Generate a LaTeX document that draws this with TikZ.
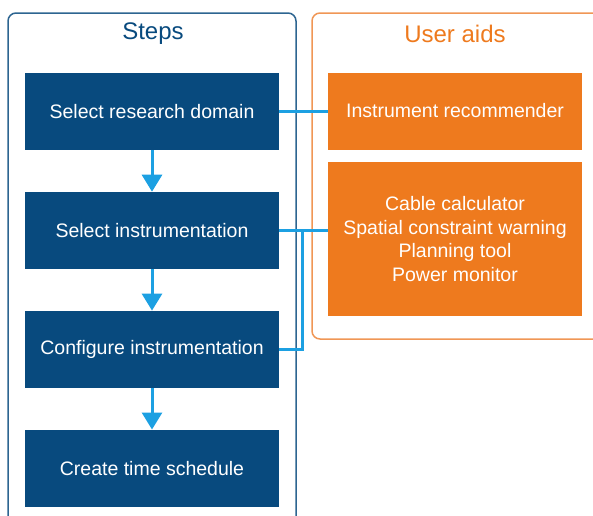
\documentclass[tikz,border=0pt]{standalone}
\usepackage{fontspec}
\setmainfont{Liberation Sans}
\usetikzlibrary{arrows.meta,positioning}
\definecolor{stepblue}{RGB}{8,74,126}
\definecolor{aidorange}{RGB}{238,122,30}
\definecolor{frameorange}{RGB}{240,150,85}
\definecolor{linkcyan}{RGB}{28,160,226}

\begin{document}
\begin{tikzpicture}[x=1pt,y=-1pt,
    node distance=41.5pt,
    stepbox/.style={fill=stepblue,text=white,minimum width=254pt,minimum height=77pt,
                    inner sep=0pt,align=center,font=\fontsize{19.5}{23.7}\selectfont},
    aidbox/.style={stepbox,fill=aidorange},
    ttl/.style={font=\fontsize{24}{28}\selectfont},
    panel/.style={rounded corners=8pt,line width=1.5pt},
    link/.style={line width=3pt,linkcyan},
    arr/.style={-{Triangle[length=17pt,width=20pt]},line width=3pt,linkcyan}
  ]
  \useasboundingbox (0,0) rectangle (593,515);
  \draw[panel,stepblue!85] (8,13) rectangle (296,540);
  \draw[panel,frameorange] (312,13) rectangle (620,339);
  \node[ttl,text=stepblue] (sttl) at (153,34) {Steps};
  \node[ttl,text=aidorange] (attl) at (455,34) {User aids};

  \node[stepbox] (dom) at (152,111.5) {Select research domain};
  \node[stepbox,below=of dom] (ins) {Select instrumentation};
  \node[stepbox,below=of ins] (cfg) {Configure instrumentation};
  \node[stepbox,below=of cfg] (sch) {Create time schedule};

  \node[aidbox] (rec) at (455,111) {Instrument recommender};
  \node[aidbox,minimum height=154pt,below=12pt of rec] (tools) {Cable calculator\\
        Spatial constraint warning\\Planning tool\\Power monitor};

  \coordinate (jn) at ([xshift=23pt]ins.east);
  \draw[link] (dom.east) -- (dom.east -| rec.west);
  \draw[link] (ins.east) -- (ins.east -| tools.west);
  \draw[link] (cfg.east) -| (jn);

  \draw[arr] (dom) -- (ins);
  \draw[arr] (ins) -- (cfg);
  \draw[arr] (cfg) -- (sch);
\end{tikzpicture}
\end{document}
